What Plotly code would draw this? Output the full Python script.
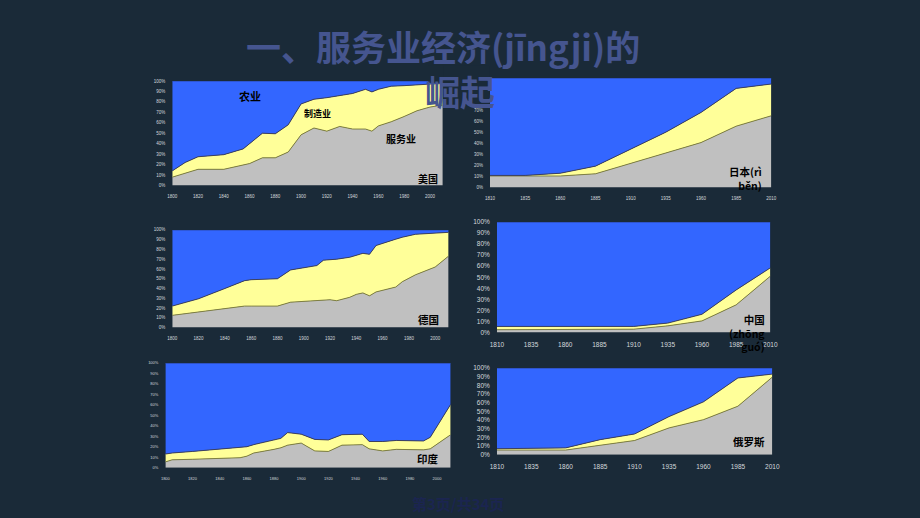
import plotly.graph_objects as go

# ---------------- data (shares in %) ----------------
us_years = [1800, 1810, 1820, 1840, 1855, 1860, 1870, 1880, 1890, 1900, 1910, 1920, 1930, 1940, 1950, 1955, 1960, 1970, 1980, 1990, 2000, 2010]
us_services = [8, 11.5, 15.5, 15.5, 19.5, 21, 26.5, 26.5, 32, 48.5, 55, 52, 56.5, 54, 54, 52, 57, 61, 66, 71.5, 75, 77]
us_manufacturing = [6, 10.5, 12, 14, 15.5, 19, 23.5, 23, 26, 29.5, 27.5, 32, 29.5, 34, 38, 37.5, 35, 34, 29.5, 25, 22, 20.5]
us_agriculture = [86, 78, 72.5, 70.5, 65, 60, 50, 50.5, 42, 22, 17.5, 16, 14, 12, 8, 10.5, 8, 5, 4.5, 3.5, 3, 2.5]

jp_years = [1810, 1835, 1860, 1885, 1910, 1935, 1960, 1985, 2010]
jp_services = [10.5, 10.5, 10.5, 12.5, 22, 32, 41, 56, 65.5]
jp_manufacturing = [0.5, 0.5, 2.5, 7, 13, 18.5, 27.5, 34.5, 29]
jp_agriculture = [89, 89, 87, 80.5, 65, 49.5, 31.5, 9.5, 5.5]

de_years = [1800, 1820, 1840, 1855, 1860, 1880, 1890, 1900, 1910, 1915, 1920, 1925, 1935, 1940, 1945, 1950, 1955, 1970, 1975, 1985, 2000, 2010]
de_services = [12.5, 16, 19.5, 22, 22, 22, 26, 27, 28, 28, 28.5, 27.5, 31, 34, 35.5, 32.5, 36.5, 41.5, 47, 54, 62, 73]
de_manufacturing = [9.5, 13.5, 20.5, 26, 27, 28, 33, 34, 35.5, 41, 41, 42.5, 41, 40, 40.5, 42.5, 47.5, 49, 45.5, 41.5, 35, 24.5]
de_agriculture = [78, 70.5, 60, 52, 51, 50, 41, 39, 36.5, 31, 30.5, 30, 28, 26, 24, 25, 16, 9.5, 7.5, 4.5, 3, 2.5]

cn_years = [1810, 1835, 1860, 1885, 1910, 1935, 1960, 1985, 2010]
cn_services = [2.5, 2.5, 2.5, 2.5, 3, 6, 10.5, 25, 51]
cn_manufacturing = [3, 3, 3, 3, 2.5, 2.5, 6, 13.5, 7.5]
cn_agriculture = [94.5, 94.5, 94.5, 94.5, 94.5, 91.5, 83.5, 61.5, 41.5]

in_years = [1800, 1805, 1820, 1840, 1855, 1860, 1865, 1880, 1885, 1890, 1900, 1910, 1920, 1930, 1945, 1950, 1960, 1970, 1990, 1995, 2010]
in_services = [5.5, 7.5, 8, 9, 9.5, 11, 14, 17.5, 19, 21.5, 23.5, 16, 15.5, 21.5, 22, 18, 16, 17.5, 17, 18, 31.5]
in_manufacturing = [7.5, 6.5, 7.5, 8.5, 9.5, 9, 8, 9.5, 9, 12, 8.5, 11, 11, 10, 10, 7, 9, 8.5, 8.5, 11, 29]
in_agriculture = [87, 86, 84.5, 82.5, 81, 80, 78, 73, 72, 66.5, 68, 73, 73.5, 68.5, 68, 75, 75, 74, 74.5, 71, 39.5]

ru_years = [1810, 1835, 1860, 1885, 1910, 1935, 1960, 1985, 2010]
ru_services = [5.5, 5.5, 5.5, 11, 16.5, 31, 40.5, 56, 89.5]
ru_manufacturing = [1.5, 2, 2.5, 6.5, 7.5, 13, 20.5, 32.5, 3.5]
ru_agriculture = [93, 92.5, 92, 82.5, 76, 56, 39, 11.5, 7]

ticks_20 = [1800, 1820, 1840, 1860, 1880, 1900, 1920, 1940, 1960, 1980, 2000]
ticks_25 = [1810, 1835, 1860, 1885, 1910, 1935, 1960, 1985, 2010]
pct_ticks = list(range(0, 101, 10))
pct_labels = [f"{v}%" for v in pct_ticks]
# Japan panel: the top labels are covered by the title in the slide
jp_pct_labels = [f"{v}%" if v < 80 else "" for v in pct_ticks]

title_line1 = "一、服务业经济(jīngji)的"
title_line2 = "崛起"
footer_text = "第3页/共34页"

# ---------------- style ----------------
W, H = 920, 518
BG = "#1a2a38"
C_SERV, C_MANU, C_AGRI = "#C0C0C0", "#FFFF99", "#3366FF"
L_SERV, L_MANU, L_AGRI = "#77773a", "#3a3a55", "#2a3f8f"
CJK = "Noto Sans CJK SC"

# (key, years, serv, manu, agri, px box [left, top, right, bottom], xrange, xticks, tickfont, ylabels)
charts = [
    ("us", us_years, us_services, us_manufacturing, us_agriculture, [168, 78, 443, 184], [1800, 2010], ticks_20, 4.5, pct_labels),
    ("jp", jp_years, jp_services, jp_manufacturing, jp_agriculture, [491, 75, 777, 186], [1810, 2010], ticks_25, 4.5, jp_pct_labels),
    ("de", de_years, de_services, de_manufacturing, de_agriculture, [168, 229, 450, 328], [1800, 2011], ticks_20, 4.5, pct_labels),
    ("cn", cn_years, cn_services, cn_manufacturing, cn_agriculture, [498, 221, 776, 333], [1810, 2010], ticks_25, 6.5, pct_labels),
    ("in", in_years, in_services, in_manufacturing, in_agriculture, [161, 364, 451, 470], [1800, 2010], ticks_20, 4, pct_labels),
    ("ru", ru_years, ru_services, ru_manufacturing, ru_agriculture, [498, 369, 778, 457], [1810, 2010], ticks_25, 6.5, pct_labels),
]

fig = go.Figure()
layout_axes = {}
for i, (key, yrs, sv, mf, ag, box, xr, xt, fs, ylab) in enumerate(charts, start=1):
    xa = "x" if i == 1 else f"x{i}"
    ya = "y" if i == 1 else f"y{i}"
    for vals, fc, lc in ((sv, C_SERV, L_SERV), (mf, C_MANU, L_MANU), (ag, C_AGRI, L_AGRI)):
        fig.add_trace(go.Scatter(
            x=yrs, y=vals, stackgroup=key, mode="lines",
            fillcolor=fc, line=dict(color=lc, width=0.9),
            xaxis=xa, yaxis=ya, showlegend=False, hoverinfo="skip",
        ))
    l, t, r, b = box
    tick_color = "#d4d8dc"
    layout_axes["xaxis" if i == 1 else f"xaxis{i}"] = dict(
        domain=[l / W, r / W], range=xr, anchor=ya,
        tickvals=xt, ticktext=[str(v) for v in xt],
        showgrid=False, zeroline=False, showline=False, ticks="",
        tickfont=dict(size=fs, color=tick_color, family="Arial"),
        ticklabelstandoff=7, fixedrange=True,
    )
    layout_axes["yaxis" if i == 1 else f"yaxis{i}"] = dict(
        domain=[1 - b / H, 1 - t / H], range=[0, 100], anchor=xa,
        tickvals=pct_ticks, ticktext=ylab,
        showgrid=False, zeroline=False, showline=False, ticks="",
        tickfont=dict(size=fs, color=tick_color, family="Arial"),
        ticklabelstandoff=6, fixedrange=True,
    )

ann = []

def label(text, px, py, size=10.5, xanchor="center", align="center"):
    ann.append(dict(
        text=f"<b>{text}</b>", x=px / W, y=1 - py / H, xref="paper", yref="paper",
        xanchor=xanchor, yanchor="middle", align=align, showarrow=False,
        font=dict(family=CJK, size=size, color="#000000"),
    ))

label("农业", 247, 93, 11)
label("制造业", 316, 111, 9)
label("服务业", 401, 136, 10)
label("美国", 428, 177, 10)
label("日本(rì<br>běn)", 770, 177, 10.5, xanchor="right", align="right")
label("德国", 428, 320, 10.5)
label("中国<br>(zhōng<br>guó)", 773, 334, 10.5, xanchor="right", align="right")
label("印度", 428, 461, 10.5)
label("俄罗斯", 754, 443, 10.5)

title_font = dict(family=CJK, size=35, color="#45558f")
ann.append(dict(text=f"<b>{title_line1}</b>", x=443 / W, y=1 - 42 / H, xref="paper", yref="paper",
                xanchor="center", yanchor="middle", showarrow=False, font=title_font))
ann.append(dict(text=f"<b>{title_line2}</b>", x=461 / W, y=1 - 88 / H, xref="paper", yref="paper",
                xanchor="center", yanchor="middle", showarrow=False, font=title_font))
ann.append(dict(text=f"<b>{footer_text}</b>", x=458 / W, y=1 - 506 / H, xref="paper", yref="paper",
                xanchor="center", yanchor="middle", showarrow=False,
                font=dict(family=CJK, size=15, color="#1b2550")))

# dark backing of the title's second line (hides chart corners as in the slide)
shapes = [
    dict(type="rect", xref="paper", yref="paper", layer="above",
         x0=443 / W, x1=490 / W, y0=1 - 102 / H, y1=1 - 62 / H,
         fillcolor=BG, line=dict(width=0)),
    dict(type="rect", xref="paper", yref="paper", layer="above",
         x0=428 / W, x1=444 / W, y0=1 - 80 / H, y1=1 - 62 / H,
         fillcolor=BG, line=dict(width=0)),
]

fig.update_layout(
    width=W, height=H, margin=dict(l=0, r=0, t=0, b=0),
    paper_bgcolor=BG, plot_bgcolor=BG,
    showlegend=False, annotations=ann, shapes=shapes, **layout_axes,
)

fig.write_html("out.html")
